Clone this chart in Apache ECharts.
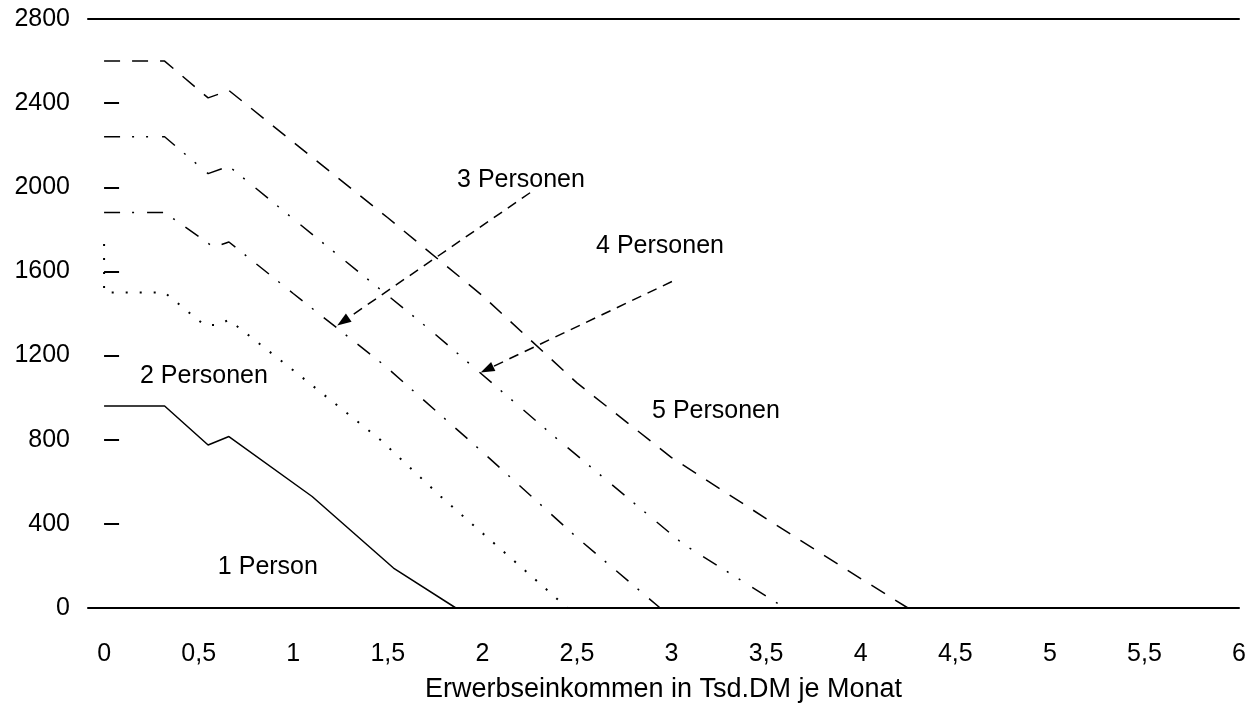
<!DOCTYPE html>
<html>
<head>
<meta charset="utf-8">
<script src="https://cdn.jsdelivr.net/npm/echarts@6/dist/echarts.min.js"></script>
<style>
  html, body { margin: 0; padding: 0; background: #fff; }
  #chart { width: 1254px; height: 708px; }
</style>
</head>
<body>
<div id="chart"></div>
<script>
// x = Erwerbseinkommen (Tsd. DM), y = Leistung (DM)
var xTicks = [0, 0.5, 1, 1.5, 2, 2.5, 3, 3.5, 4, 4.5, 5, 5.5, 6];
var person1 = [[0, 960], [0.32, 960], [0.55, 775], [0.66, 815], [1.1, 530], [1.53, 190], [1.86, 0], [6, 0]];
var person2 = [[0, 1730], [0, 1500], [0.32, 1500], [0.53, 1345], [0.6, 1345], [0.66, 1370], [1.0, 1130], [1.46, 800], [1.78, 530], [2.16, 230], [2.45, 0], [6, 0]];
var person3 = [[0, 1880], [0.32, 1880], [0.58, 1715], [0.66, 1740], [1.0, 1495], [1.48, 1155], [1.99, 750], [2.5, 335], [2.94, 0], [6, 0]];
var person4 = [[0, 2240], [0.32, 2240], [0.55, 2065], [0.66, 2100], [1.0, 1850], [1.72, 1325], [2.4, 800], [3.06, 305], [3.6, 0], [6, 0]];
var person5 = [[0, 2600], [0.32, 2600], [0.55, 2425], [0.66, 2460], [1.0, 2215], [1.5, 1855], [2.0, 1485], [2.5, 1070], [3.0, 715], [3.5, 425], [4.0, 140], [4.25, 0], [6, 0]];

// annotations (data coords)
var noteLabels = [
    [2.204, 2036, '3 Personen'],
    [2.939, 1718, '4 Personen'],
    [0.528, 1101, '2 Personen'],
    [3.235, 935, '5 Personen'],
    [0.866, 195, '1 Person']
];
var arrow3 = [[2.252, 1974], [1.263, 1362]];
var arrow4 = [[3.002, 1552], [2.024, 1134]];

var chartDom = document.getElementById('chart');
var myChart = echarts.init(chartDom);
var font = 'Liberation Sans';

function lineSeries(name, data, dash, width) {
    return {
        name: name,
        type: 'line',
        data: data,
        symbol: 'none',
        silent: true,
        lineStyle: { color: '#000', width: width || 1.5, type: dash, cap: 'butt' }
    };
}

var option = {
    animation: false,
    backgroundColor: '#fff',
    grid: { left: 88, right: 15, top: 19, bottom: 99 },
    xAxis: [{
        type: 'value',
        min: -0.085,
        max: 6,
        name: 'Erwerbseinkommen in Tsd.DM je Monat',
        nameLocation: 'middle',
        nameGap: 68,
        nameTextStyle: { fontFamily: font, fontSize: 27, color: '#000' },
        axisLine: { show: true, lineStyle: { color: '#000', width: 2 } },
        axisTick: { show: false },
        splitLine: { show: false },
        axisLabel: {
            customValues: xTicks,
            margin: 34,
            fontFamily: font,
            fontSize: 25,
            color: '#000',
            formatter: function (v) { return String(v).replace('.', ','); }
        }
    }, {
        type: 'value',
        position: 'top',
        min: -0.085,
        max: 6,
        axisLine: { show: true, lineStyle: { color: '#000', width: 2 } },
        axisTick: { show: false },
        axisLabel: { show: false },
        splitLine: { show: false }
    }],
    yAxis: {
        type: 'value',
        min: 0,
        max: 2800,
        interval: 400,
        axisLine: { show: false },
        axisTick: { show: true, inside: true, length: 15, lineStyle: { color: '#000', width: 2 } },
        splitLine: { show: false },
        axisLabel: {
            margin: 18, fontFamily: font, fontSize: 25, color: '#000',
            formatter: function (v) { return String(v); }
        }
    },
    series: [
        lineSeries('1 Person', person1, 'solid', 1.5),
        lineSeries('2 Personen', person2, [2, 12], 2),
        lineSeries('3 Personen', person3, [16, 12, 2, 13], 1.5),
        lineSeries('4 Personen', person4, [16, 12, 2, 12, 2, 14], 1.5),
        lineSeries('5 Personen', person5, [16, 12], 1.5),
        {
            name: 'notes',
            type: 'scatter',
            data: noteLabels,
            symbolSize: 0,
            silent: true,
            itemStyle: { opacity: 1 },
            label: {
                show: true,
                position: [0, 0],
                align: 'center',
                verticalAlign: 'middle',
                fontFamily: font,
                fontSize: 25,
                color: '#000',
                formatter: function (p) { return p.data[2]; }
            },
            markLine: {
                silent: true,
                symbol: ['none', 'triangle'],
                symbolSize: [10, 14],
                label: { show: false },
                lineStyle: { color: '#000', width: 1.5, type: [10, 7], opacity: 1 },
                data: [
                    [{ coord: arrow3[0] }, { coord: arrow3[1] }],
                    [{ coord: arrow4[0] }, { coord: arrow4[1] }]
                ]
            }
        }
    ]
};

option && myChart.setOption(option);
window.addEventListener('resize', function () {
    myChart.resize();
});
</script>
</body>
</html>
